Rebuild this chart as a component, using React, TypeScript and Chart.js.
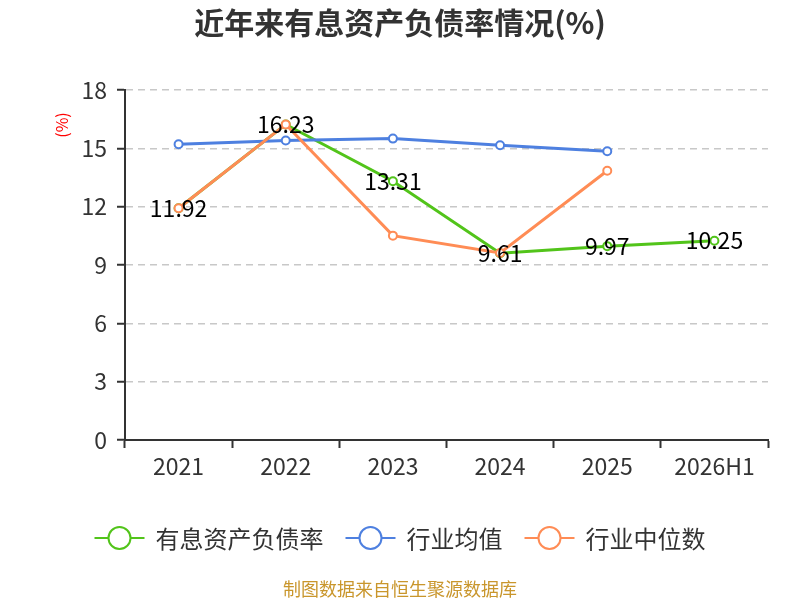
import React, { useEffect, useRef } from 'react';
import { Chart, ChartConfiguration, Plugin, registerables } from 'chart.js';

Chart.register(...registerables);

const FONT = '"Noto Sans CJK SC", "Noto Sans", sans-serif';

const categories = ['2021', '2022', '2023', '2024', '2025', '2026H1'];
const debtRatio = [11.92, 16.23, 13.31, 9.61, 9.97, 10.25];
const industryAvg = [15.21, 15.4, 15.5, 15.16, 14.85, null];
const industryMedian = [11.92, 16.23, 10.51, 9.62, 13.85, null];
const yTicks = [0, 3, 6, 9, 12, 15, 18];

const seriesNames = ['有息资产负债率', '行业均值', '行业中位数'];
const seriesColors = ['#52c41a', '#4e80e0', '#ff8c55'];

const titleText = '近年来有息资产负债率情况(%)';
const unitText = '(%)';
const sourceText = '制图数据来自恒生聚源数据库';

// title, unit, legend, source note and value labels
const decorPlugin: Plugin<'line'> = {
  id: 'decor',
  afterDraw(chart) {
    const ctx = chart.ctx;
    ctx.save();

    ctx.fillStyle = '#333';
    ctx.font = `bold 30px ${FONT}`;
    ctx.textAlign = 'center';
    ctx.textBaseline = 'middle';
    ctx.fillText(titleText, 400, 23);

    // unit
    ctx.save();
    ctx.translate(62, 125);
    ctx.rotate(-Math.PI / 2);
    ctx.fillStyle = '#ff0000';
    ctx.font = `16px ${FONT}`;
    ctx.fillText(unitText, 0, 0);
    ctx.restore();

    // value labels on the main series
    const meta = chart.getDatasetMeta(0);
    ctx.fillStyle = '#000';
    ctx.font = `23px ${FONT}`;
    meta.data.forEach((pt, i) => {
      ctx.fillText(debtRatio[i].toFixed(2), pt.x, pt.y);
    });

    // legend
    ctx.font = `24px ${FONT}`;
    const iconW = 50;
    const gapIcon = 11;
    const gapItem = 22;
    const widths = seriesNames.map((n) => iconW + gapIcon + ctx.measureText(n).width);
    const total = widths.reduce((a, b) => a + b, 0) + gapItem * (widths.length - 1);
    let x = 400 - total / 2;
    const y = 538;
    seriesNames.forEach((name, i) => {
      ctx.strokeStyle = seriesColors[i];
      ctx.lineWidth = 2;
      ctx.beginPath();
      ctx.moveTo(x, y);
      ctx.lineTo(x + iconW, y);
      ctx.stroke();
      ctx.beginPath();
      ctx.arc(x + iconW / 2, y, 11, 0, Math.PI * 2);
      ctx.fillStyle = '#fff';
      ctx.fill();
      ctx.stroke();
      ctx.fillStyle = '#333';
      ctx.textAlign = 'left';
      ctx.fillText(name, x + iconW + gapIcon, y + 1);
      x += widths[i] + gapItem;
    });

    // source
    ctx.textAlign = 'center';
    ctx.fillStyle = '#c9962c';
    ctx.font = `18px ${FONT}`;
    ctx.fillText(sourceText, 400, 589);

    ctx.restore();
  },
};

const App: React.FC = () => {
  const canvasRef = useRef<HTMLCanvasElement | null>(null);

  useEffect(() => {
    if (!canvasRef.current) return;
    const ctx = canvasRef.current.getContext('2d');
    if (!ctx) return;

    const line = (label: string, data: (number | null)[], color: string, order: number) => ({
      label,
      data,
      borderColor: color,
      backgroundColor: '#fff',
      borderWidth: 3,
      pointRadius: 4,
      pointBorderWidth: 2,
      pointBackgroundColor: '#fff',
      pointBorderColor: color,
      tension: 0,
      spanGaps: false,
      order,
    });

    const config: ChartConfiguration<'line'> = {
      type: 'line',
      data: {
        labels: categories,
        datasets: [
          line(seriesNames[0], debtRatio, seriesColors[0], 2),
          line(seriesNames[1], industryAvg as number[], seriesColors[1], 1),
          line(seriesNames[2], industryMedian as number[], seriesColors[2], 0),
        ],
      },
      options: {
        responsive: false,
        animation: false,
        layout: { padding: { left: 75, right: 32, top: 90, bottom: 115 } },
        plugins: {
          legend: { display: false },
          title: { display: false },
          tooltip: { enabled: false },
        },
        scales: {
          x: {
            offset: true,
            afterFit: (scale) => {
              scale.height = 45;
            },
            grid: {
              offset: true,
              drawOnChartArea: false,
              drawTicks: true,
              tickLength: 8,
              tickColor: '#333',
              tickWidth: 2,
            },
            border: { display: true, color: '#333', width: 2 },
            ticks: {
              color: '#333',
              padding: 4,
              font: { size: 23, family: FONT },
              maxRotation: 0,
            },
          },
          y: {
            min: 0,
            max: 18,
            afterFit: (scale) => {
              scale.width = 50;
            },
            afterBuildTicks: (scale) => {
              scale.ticks = yTicks.map((v) => ({ value: v }));
            },
            grid: {
              color: '#c8c8c8',
              lineWidth: 1.5,
              tickColor: '#333',
              tickWidth: 2,
              tickLength: 8,
            },
            border: { display: true, color: '#333', width: 2, dash: [7, 5] },
            ticks: {
              color: '#333',
              padding: 10,
              font: { size: 23, family: FONT },
            },
          },
        },
      },
      plugins: [decorPlugin],
    };

    const chart = new Chart(ctx, config);
    return () => {
      chart.destroy();
    };
  }, []);

  return (
    <div style={{ position: 'fixed', left: 0, top: 0, width: 800, height: 600, background: '#fff' }}>
      <canvas ref={canvasRef} width={800} height={600} style={{ width: 800, height: 600 }} />
    </div>
  );
};

export default App;
